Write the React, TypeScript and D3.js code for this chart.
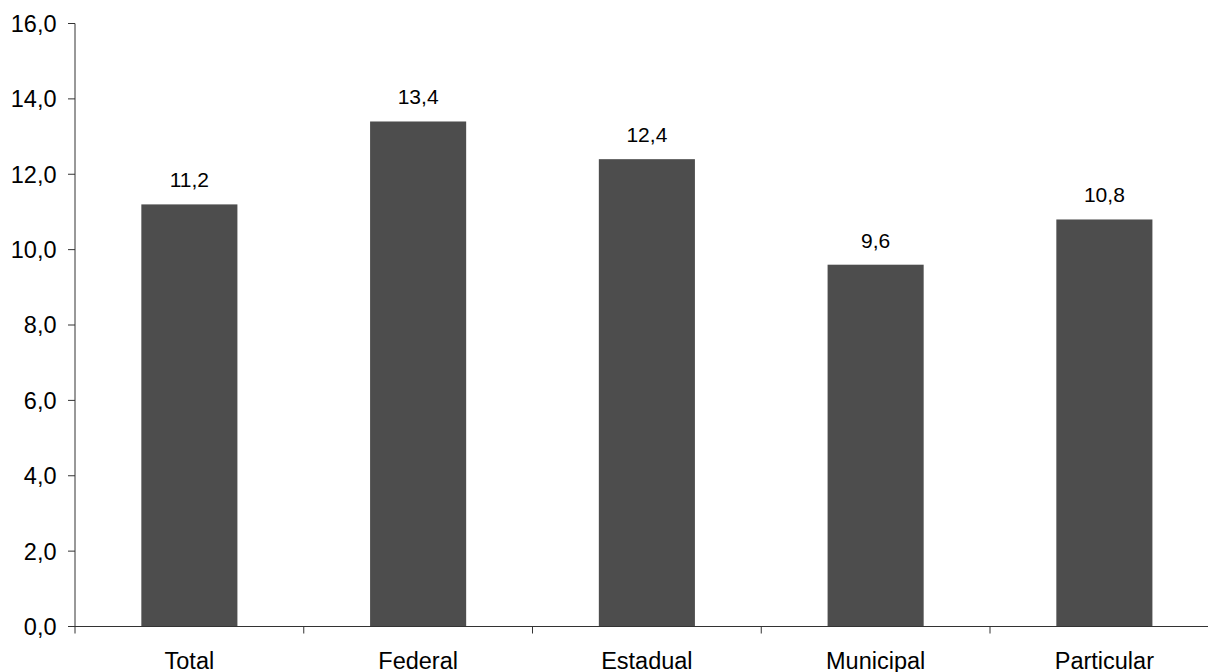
import React from "react";
import * as d3 from "d3";

const categories = ["Total", "Federal", "Estadual", "Municipal", "Particular"];
const values = [11.2, 13.4, 12.4, 9.6, 10.8];
const yTicks = [0, 2, 4, 6, 8, 10, 12, 14, 16];

const W = 1208;
const H = 672;
const left = 75;
const right = 1218.75;
const top = 23.5;
const bottom = 626.5;

const fmt = (v: number) => v.toFixed(1).replace(".", ",");

export default function App() {
  const x = d3
    .scaleBand<string>()
    .domain(categories)
    .range([left, right])
    .paddingInner(0.58)
    .paddingOuter(0.29);
  const step = x.step();
  const y = d3.scaleLinear().domain([0, 16]).range([bottom, top]);
  const font = "'Liberation Sans', Arial, sans-serif";

  return (
    <svg
      width={W}
      height={H}
      style={{ position: "absolute", left: 0, top: 0, background: "#fff" }}
      fontFamily={font}
    >
      {categories.map((c, i) => (
        <rect
          key={c}
          x={x(c)!}
          y={y(values[i])}
          width={x.bandwidth()}
          height={y(0) - y(values[i])}
          fill="#4d4d4d"
        />
      ))}
      {categories.map((c, i) => (
        <text
          key={"v" + c}
          x={x(c)! + x.bandwidth() / 2}
          y={y(values[i]) - 17}
          textAnchor="middle"
          fontSize={21}
          fill="#000"
        >
          {fmt(values[i])}
        </text>
      ))}
      {/* y axis */}
      <line x1={left} x2={left} y1={top} y2={bottom} stroke="#333" strokeWidth={1} />
      {yTicks.map((t) => (
        <g key={"t" + t}>
          <line x1={left - 7} x2={left} y1={y(t)} y2={y(t)} stroke="#333" strokeWidth={1} />
          <text
            x={56.5}
            y={y(t)}
            dy="0.36em"
            textAnchor="end"
            fontSize={23.5}
            fill="#000"
          >
            {fmt(t)}
          </text>
        </g>
      ))}
      {/* x axis */}
      <line x1={left} x2={right} y1={bottom} y2={bottom} stroke="#333" strokeWidth={1} />
      {categories.map((c, i) => (
        <line
          key={"xt" + c}
          x1={left + i * step}
          x2={left + i * step}
          y1={bottom}
          y2={bottom + 7}
          stroke="#333"
          strokeWidth={1}
        />
      ))}
      {categories.map((c) => (
        <text
          key={"l" + c}
          x={x(c)! + x.bandwidth() / 2}
          y={668.5}
          textAnchor="middle"
          fontSize={23.5}
          fill="#000"
        >
          {c}
        </text>
      ))}
    </svg>
  );
}
